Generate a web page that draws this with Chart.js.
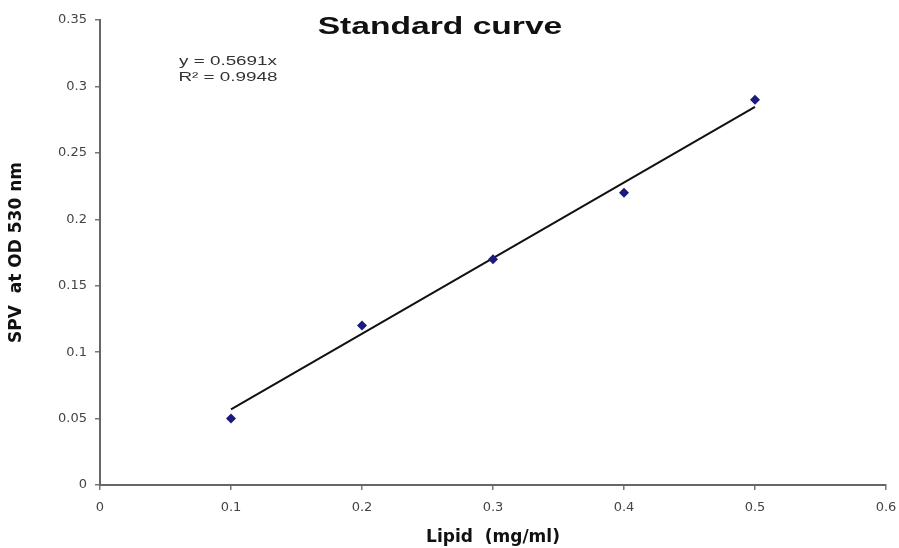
<!DOCTYPE html>
<html>
<head>
<meta charset="utf-8">
<title>Standard curve</title>
<script src="https://cdn.jsdelivr.net/npm/chart.js@4.4.1/dist/chart.umd.min.js"></script>
<style>
    html, body { margin: 0; padding: 0; background: #fff; }
    #curveChart { display: block; }
</style>
</head>
<body>
<canvas id="curveChart" width="899" height="548"></canvas>
<script>
// values
const lipid = [0.1, 0.2, 0.3, 0.4, 0.5];
const spv = [0.05, 0.12, 0.17, 0.22, 0.29];
const slope = 0.5691;
const rSquared = 0.9948;
const xTicks = [0, 0.1, 0.2, 0.3, 0.4, 0.5, 0.6];
const yTicks = [0, 0.05, 0.1, 0.15, 0.2, 0.25, 0.3, 0.35];

const points = lipid.map((x, i) => ({ x: x, y: spv[i] }));
// linear trendline through origin, drawn over the measured range
const trend = [lipid[0], lipid[lipid.length - 1]].map(x => ({ x: x, y: slope * x }));

// title + equation are drawn a bit stretched, like the original image
const headerText = {
    id: 'headerText',
    afterDraw(chart) {
        const ctx = chart.ctx;
        function stretched(text, cx, cy, font, sx, color) {
            ctx.save();
            ctx.font = font;
            ctx.fillStyle = color;
            ctx.textAlign = 'center';
            ctx.textBaseline = 'middle';
            ctx.translate(cx, cy);
            ctx.scale(sx, 1);
            ctx.fillText(text, 0, 0);
            ctx.restore();
        }
        stretched('Standard curve', 440, 27, 'bold 24px "Liberation Sans", Arial, sans-serif', 1.4, '#111');
        stretched('y = ' + slope + 'x', 228, 61, '13px "Liberation Sans", Arial, sans-serif', 1.45, '#333');
        stretched('R\u00B2 = ' + rSquared, 228, 77, '13px "Liberation Sans", Arial, sans-serif', 1.45, '#333');
    }
};

const ctx = document.getElementById('curveChart').getContext('2d');
window.curveChart = new Chart(ctx, {
    type: 'scatter',
    data: {
        datasets: [{
            label: 'SPV',
            data: points,
            pointStyle: 'rectRot',
            pointRadius: 5,
            backgroundColor: '#1b1b7e',
            borderColor: '#1b1b7e',
            borderWidth: 0,
            order: 1
        }, {
            type: 'line',
            label: 'Linear',
            data: trend,
            borderColor: '#111',
            borderWidth: 2,
            pointRadius: 0,
            fill: false,
            order: 2
        }]
    },
    options: {
        responsive: false,
        animation: false,
        layout: {
            padding: { left: 0, right: 13, top: 20, bottom: 0 }
        },
        plugins: {
            legend: { display: false },
            tooltip: { enabled: false }
        },
        scales: {
            x: {
                type: 'linear',
                min: 0,
                max: 0.6,
                afterBuildTicks: scale => { scale.ticks = xTicks.map(v => ({ value: v })); },
                afterFit: scale => {
                    scale.height = 63;
                    scale.paddingLeft = 0;
                    scale.paddingRight = 0;
                },
                border: { display: true, color: '#666', width: 2 },
                grid: {
                    display: true,
                    drawOnChartArea: false,
                    drawTicks: true,
                    tickLength: 5,
                    color: '#777',
                    lineWidth: 1.5
                },
                ticks: {
                    padding: 10,
                    color: '#444',
                    font: { family: '"DejaVu Sans", sans-serif', size: 13 },
                    callback: v => String(parseFloat(v.toFixed(2)))
                },
                title: {
                    display: true,
                    text: 'Lipid  (mg/ml)',
                    color: '#111',
                    padding: { top: 0, bottom: 0 },
                    font: { family: '"DejaVu Sans", sans-serif', size: 17, weight: 'bold' }
                }
            },
            y: {
                type: 'linear',
                min: 0,
                max: 0.35,
                afterBuildTicks: scale => { scale.ticks = yTicks.map(v => ({ value: v })); },
                afterFit: scale => {
                    scale.width = 100;
                    scale.paddingTop = 0;
                    scale.paddingBottom = 0;
                },
                border: { display: true, color: '#666', width: 2 },
                grid: {
                    display: true,
                    drawOnChartArea: false,
                    drawTicks: true,
                    tickLength: 5,
                    color: '#777',
                    lineWidth: 1.5
                },
                ticks: {
                    padding: 8,
                    color: '#444',
                    font: { family: '"DejaVu Sans", sans-serif', size: 13 },
                    callback: v => String(parseFloat(v.toFixed(2)))
                },
                title: {
                    display: true,
                    text: 'SPV  at OD 530 nm',
                    color: '#111',
                    padding: { top: 6, bottom: 0 },
                    font: { family: '"DejaVu Sans", sans-serif', size: 17, weight: 'bold' }
                }
            }
        }
    },
    plugins: [headerText]
});
</script>
</body>
</html>
